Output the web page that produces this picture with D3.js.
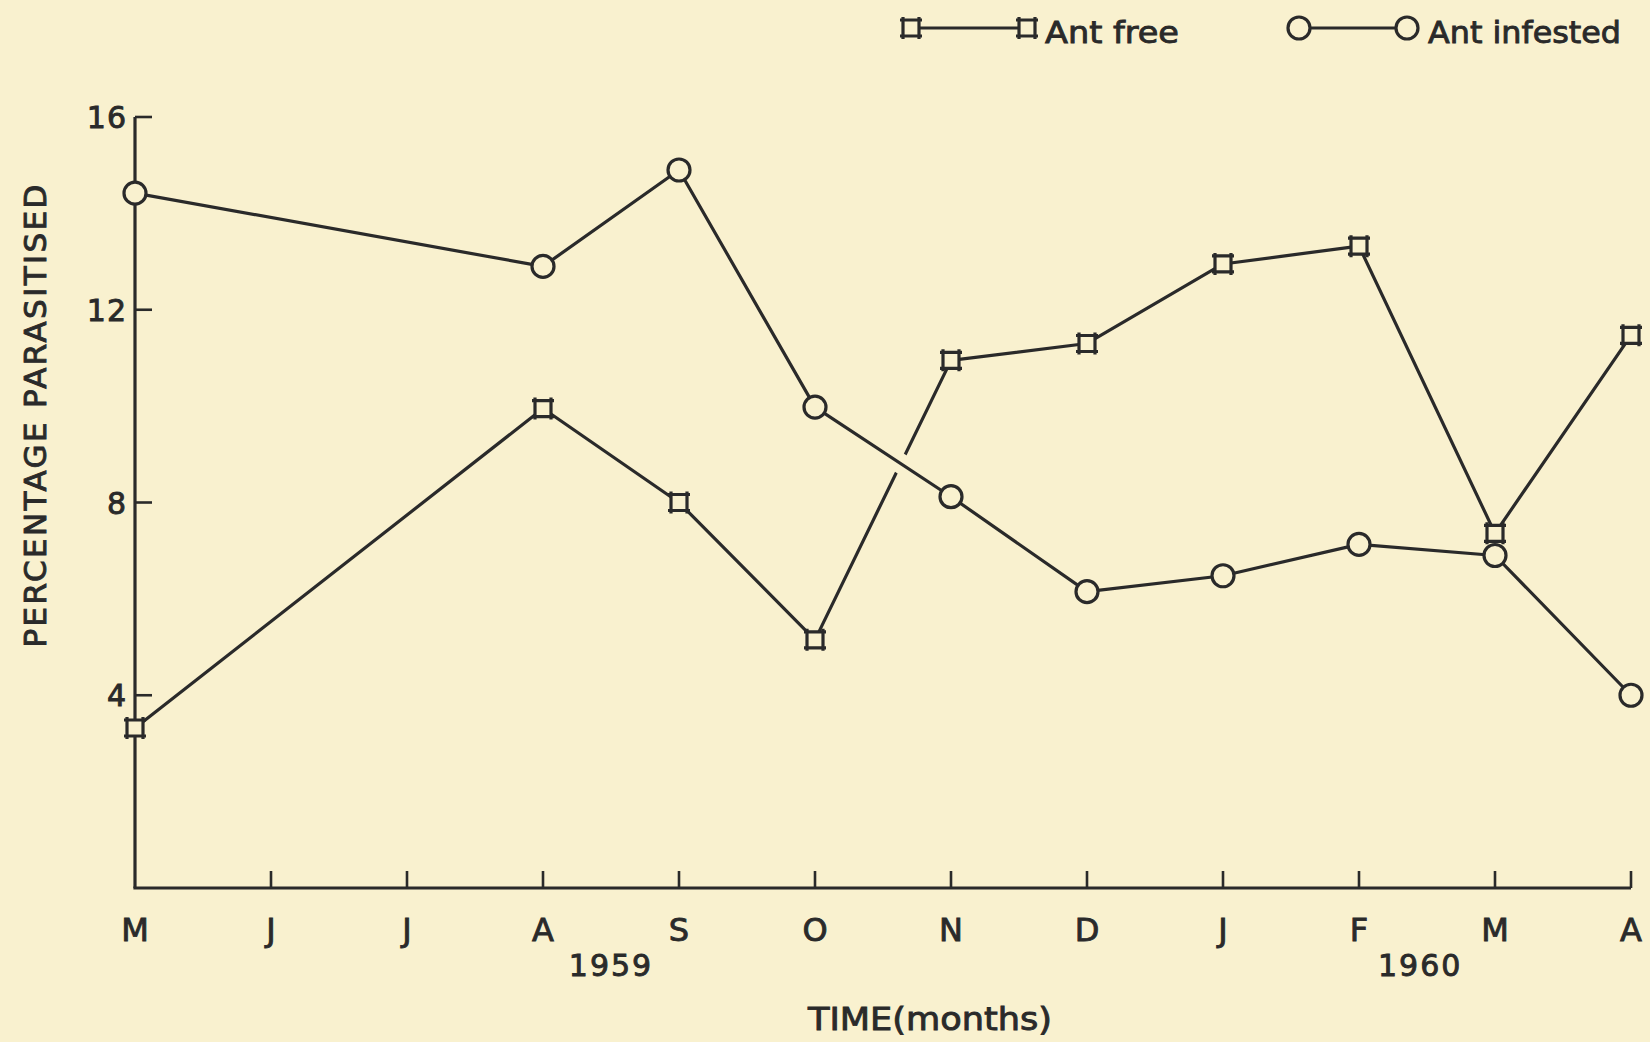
<!DOCTYPE html>
<html>
<head>
<meta charset="utf-8">
<script src="https://cdn.jsdelivr.net/npm/d3@7"></script>
<style>
  html, body { margin: 0; padding: 0; background: #f9f1cf; }
  svg { display: block; }
  text { font-family: "DejaVu Sans", sans-serif; fill: #2a2a2a; stroke: #2a2a2a; stroke-width: 0.9px; }
</style>
</head>
<body>
<svg id="chart" width="1650" height="1042"></svg>
<script>
// ---- data ----
const monthLabels = ["M", "J", "J", "A", "S", "O", "N", "D", "J", "F", "M", "A"];
const yearLabels = [{ label: "1959", pos: 3.5 }, { label: "1960", pos: 9.45 }];
const sampleMonthIndex = [0, 3, 4, 5, 6, 7, 8, 9, 10, 11];
const antFree = [3.32, 9.95, 8.0, 5.15, 10.95, 11.3, 12.95, 13.32, 7.36, 11.47];
const antInfested = [14.42, 12.9, 14.9, 9.98, 8.12, 6.15, 6.48, 7.13, 6.9, 4.0];
const yTicks = [4, 8, 12, 16];

const BG = "#f9f1cf";
const INK = "#2a2a2a";

const svg = d3.select("#chart");
svg.append("rect").attr("width", 1650).attr("height", 1042).attr("fill", BG);

const x = d3.scaleLinear().domain([0, 11]).range([135, 1631]);
const y = d3.scaleLinear().domain([0, 16]).range([888, 117]);

// ---- axes ----
const g = svg.append("g");
g.append("line").attr("x1", x(0)).attr("x2", x(0)).attr("y1", y(16)).attr("y2", y(0))
  .attr("stroke", INK).attr("stroke-width", 3.2);
g.append("line").attr("x1", x(0) - 1.6).attr("x2", x(11)).attr("y1", y(0)).attr("y2", y(0))
  .attr("stroke", INK).attr("stroke-width", 3.2);

// y ticks (inward)
g.selectAll(".yt").data(yTicks).enter().append("line")
  .attr("x1", x(0)).attr("x2", x(0) + 17)
  .attr("y1", d => y(d)).attr("y2", d => y(d))
  .attr("stroke", INK).attr("stroke-width", 2.6);
g.selectAll(".yl").data(yTicks).enter().append("text")
  .attr("x", 127).attr("y", d => y(d) + 11)
  .attr("text-anchor", "end").attr("font-size", 30).attr("letter-spacing", 1)
  .text(d => d);

// x ticks (inward, upward)
g.selectAll(".xt").data(d3.range(1, 12)).enter().append("line")
  .attr("x1", d => x(d)).attr("x2", d => x(d))
  .attr("y1", y(0)).attr("y2", y(0) - 17)
  .attr("stroke", INK).attr("stroke-width", 2.6);
g.selectAll(".xl").data(monthLabels).enter().append("text")
  .attr("x", (d, i) => x(i)).attr("y", 941)
  .attr("text-anchor", "middle").attr("font-size", 32)
  .text(d => d);
g.selectAll(".yr").data(yearLabels).enter().append("text")
  .attr("x", d => x(d.pos)).attr("y", 976)
  .attr("text-anchor", "middle").attr("font-size", 30).attr("letter-spacing", 2)
  .text(d => d.label);

// axis titles
svg.append("text").attr("x", 930).attr("y", 1030).attr("text-anchor", "middle")
  .attr("font-size", 32).attr("textLength", 244).attr("lengthAdjust", "spacingAndGlyphs")
  .text("TIME(months)");
svg.append("text").attr("transform", "translate(46,416) rotate(-90)")
  .attr("text-anchor", "middle").attr("font-size", 31)
  .attr("textLength", 463).attr("lengthAdjust", "spacing")
  .text("PERCENTAGE PARASITISED");

// ---- marker helpers ----
const squarePath = "M-11,-8H11M-11,8H11M-8,-11V11M8,-11V11";
function drawSquare(sel) {
  sel.append("rect").attr("x", -8).attr("y", -8).attr("width", 16).attr("height", 16).attr("fill", BG);
  sel.append("path").attr("d", squarePath).attr("stroke", INK).attr("stroke-width", 3.2).attr("fill", "none");
}
function drawCircle(sel) {
  sel.append("circle").attr("r", 11).attr("fill", BG).attr("stroke", INK).attr("stroke-width", 3.2);
}

const line = d3.line().x(d => x(d.i)).y(d => y(d.v));
const freeData = sampleMonthIndex.map((i, k) => ({ i, v: antFree[k] }));
const infData = sampleMonthIndex.map((i, k) => ({ i, v: antInfested[k] }));

// ant free line
svg.append("path").datum(freeData).attr("d", line)
  .attr("fill", "none").attr("stroke", INK).attr("stroke-width", 3.2).attr("stroke-linejoin", "round");
freeData.forEach(d => {
  drawSquare(svg.append("g").attr("transform", `translate(${x(d.i)},${y(d.v)})`));
});

// break in ant-free line where it crosses (O -> N segment of ant infested)
svg.append("path").datum(infData.slice(3, 5)).attr("d", line)
  .attr("fill", "none").attr("stroke", BG).attr("stroke-width", 20);

// ant infested line
svg.append("path").datum(infData).attr("d", line)
  .attr("fill", "none").attr("stroke", INK).attr("stroke-width", 3.2).attr("stroke-linejoin", "round");
infData.forEach(d => {
  drawCircle(svg.append("g").attr("transform", `translate(${x(d.i)},${y(d.v)})`));
});

// ---- legend ----
const lg = svg.append("g");
lg.append("line").attr("x1", 911).attr("x2", 1027).attr("y1", 28).attr("y2", 28).attr("stroke", INK).attr("stroke-width", 3.2);
drawSquare(lg.append("g").attr("transform", "translate(911,28)"));
drawSquare(lg.append("g").attr("transform", "translate(1027,28)"));
lg.append("text").attr("x", 1045).attr("y", 43).attr("font-size", 31)
  .attr("textLength", 134).attr("lengthAdjust", "spacingAndGlyphs").text("Ant free");
lg.append("line").attr("x1", 1299).attr("x2", 1407).attr("y1", 28).attr("y2", 28).attr("stroke", INK).attr("stroke-width", 3.2);
drawCircle(lg.append("g").attr("transform", "translate(1299,28)"));
drawCircle(lg.append("g").attr("transform", "translate(1407,28)"));
lg.append("text").attr("x", 1428).attr("y", 43).attr("font-size", 31)
  .attr("textLength", 193).attr("lengthAdjust", "spacingAndGlyphs").text("Ant infested");
</script>
</body>
</html>
